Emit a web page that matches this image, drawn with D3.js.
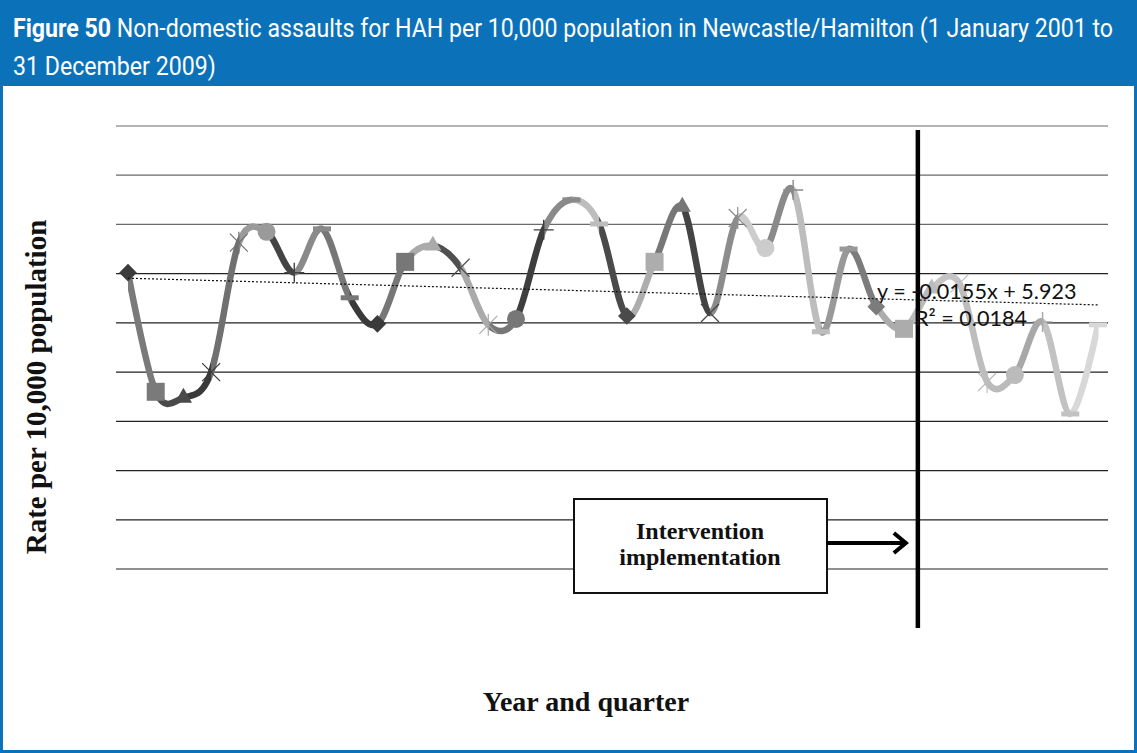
<!DOCTYPE html>
<html><head><meta charset="utf-8">
<script src="https://cdn.jsdelivr.net/npm/d3@7"></script>
<style>
html,body{margin:0;padding:0;background:#fff;}
svg{display:block;}
</style></head>
<body>
<svg id="chart" width="1137" height="753"></svg>
<script>
// Quarters 2001 Q1 .. 2009 Q4 (36 quarters)
const quarters = d3.range(1, 37);
const rates = [6.02, 3.60, 3.48, 4.00, 6.63, 6.85, 6.02, 6.91, 5.51,
               4.98, 6.24, 6.57, 6.12, 4.96, 5.08, 6.89, 7.50, 7.01,
               5.14, 6.24, 7.36, 5.20, 7.13, 6.52, 7.70, 4.82, 6.50,
               5.33, 4.88, 5.70, 5.80, 3.80, 3.94, 5.02, 3.15, 4.96];
// Grey shade of each point (line segment entering the point takes its colour)
const shades = ["#3c3c3c", "#7a7a7a", "#4a4a4a", "#3a3a3a", "#707070", "#9a9a9a", "#444444", "#8a8a8a", "#777777",
                "#3a3a3a", "#777777", "#aaaaaa", "#505050", "#aaaaaa", "#777777", "#3e3e3e", "#8a8a8a", "#bdbdbd",
                "#4a4a4a", "#adadad", "#777777", "#444444", "#8c8c8c", "#cccccc", "#8a8a8a", "#bdbdbd", "#999999",
                "#7c7c7c", "#acacac", "#bbbbbb", "#c4c4c4", "#bdbdbd", "#bbbbbb", "#a8a8a8", "#c2c2c2", "#d8d8d8"];
const markerCycle = ["diamond", "square", "triangle", "x", "star", "circle", "plus", "dash", "dash"];
const gridValues = [0, 1, 2, 3, 4, 5, 6, 7, 8, 9];
const trendSlope = -0.0155, trendIntercept = 5.923;
const trendLabel = "y = -0.0155x + 5.923";
const r2Label = "R\u00b2 = 0.0184";
const interventionAt = 29.5;

const svg = d3.select("#chart");
const W = 1137, H = 753;

// Frame and header
svg.append("rect").attr("x", 1.5).attr("y", 1.5).attr("width", W - 3).attr("height", H - 3)
  .attr("fill", "#fff").attr("stroke", "#0b72ba").attr("stroke-width", 3);
svg.append("rect").attr("x", 0).attr("y", 0).attr("width", W).attr("height", 86).attr("fill", "#0b72ba");
const title = svg.append("text").attr("fill", "#fff").attr("transform", "scale(0.89,1)")
  .style("font-family", "Roboto,'Liberation Sans',sans-serif")
  .style("font-size", "26px");
const t1 = title.append("tspan").attr("x", 13 / 0.89).attr("y", 37);
t1.append("tspan").attr("font-weight", "bold").text("Figure 50");
t1.append("tspan").text(" Non-domestic assaults for HAH per 10,000 population in Newcastle/Hamilton (1 January 2001 to");
title.append("tspan").attr("x", 13 / 0.89).attr("y", 75).text("31 December 2009)");

// Scales
const x = d3.scaleLinear().domain([1, 36]).range([128, 1098]);
const y = d3.scaleLinear().domain([0, 9]).range([569, 126]);

// Gridlines
svg.append("g").selectAll("line").data(gridValues).join("line")
  .attr("x1", 116).attr("x2", 1108)
  .attr("y1", d => y(d)).attr("y2", d => y(d))
  .attr("stroke", d => d >= 7 ? "#6a6a6a" : "#222").attr("stroke-width", 1.2);

// Smoothed line with per-segment colours via clipping
const data = quarters.map((q, i) => ({q, v: rates[i], c: shades[i], m: markerCycle[i % markerCycle.length]}));
const lineGen = d3.line().x(d => x(d.q)).y(d => y(d.v)).curve(d3.curveCatmullRom.alpha(0));
const pathD = lineGen(data);
const defs = svg.append("defs");
data.slice(1).forEach((d, i) => {
  defs.append("clipPath").attr("id", "seg" + i).append("rect")
    .attr("x", x(data[i].q)).attr("y", 0)
    .attr("width", x(d.q) - x(data[i].q) + 0.6).attr("height", H);
});
const segG = svg.append("g");
data.slice(1).forEach((d, i) => {
  segG.append("path").attr("d", pathD).attr("fill", "none")
    .attr("stroke", d.c).attr("stroke-width", 6.5)
    .attr("clip-path", `url(#seg${i})`);
});

// Markers
const mg = svg.append("g");
data.forEach(d => {
  const cx = x(d.q), cy = y(d.v);
  const g = mg.append("g").attr("transform", `translate(${cx},${cy})`);
  const col = d.c;
  if (d.m === "diamond") {
    g.append("path").attr("d", d3.symbol(d3.symbolDiamond2, 200)()).attr("fill", col);
  } else if (d.m === "square") {
    g.append("rect").attr("x", -9).attr("y", -9).attr("width", 18).attr("height", 18).attr("fill", col);
  } else if (d.m === "triangle") {
    g.append("path").attr("d", d3.symbol(d3.symbolTriangle2, 210)()).attr("fill", col);
  } else if (d.m === "x") {
    g.append("path").attr("d", "M-9,-9L9,9M-9,9L9,-9").attr("stroke", col).attr("stroke-width", 1.2);
  } else if (d.m === "star") {
    g.append("path").attr("d", "M-9,-9L9,9M-9,9L9,-9M0,-11V11").attr("stroke", col).attr("stroke-width", 1.2);
  } else if (d.m === "circle") {
    g.append("circle").attr("r", 9).attr("fill", col);
  } else if (d.m === "plus") {
    g.append("path").attr("d", "M-10,0H10M0,-10V10").attr("stroke", col).attr("stroke-width", 1.4);
  } else {
    g.append("rect").attr("x", -9).attr("y", -2.5).attr("width", 18).attr("height", 5).attr("fill", col);
  }
});

// Trendline
svg.append("line")
  .attr("x1", x(1)).attr("y1", y(trendIntercept + trendSlope * 1))
  .attr("x2", x(36)).attr("y2", y(trendIntercept + trendSlope * 36))
  .attr("stroke", "#111").attr("stroke-width", 1.2).attr("stroke-dasharray", "2,2");

// Intervention line
const vx = x(interventionAt);
svg.append("line").attr("x1", vx).attr("x2", vx).attr("y1", 130).attr("y2", 628)
  .attr("stroke", "#000").attr("stroke-width", 4.5);

// Equation text
const eqFont = "Lato,'Open Sans',sans-serif";
svg.append("text").attr("x", 877).attr("y", 299).attr("fill", "#111")
  .style("font-family", eqFont).style("font-size", "21.6px").text(trendLabel);
svg.append("text").attr("x", 915).attr("y", 326).attr("fill", "#111")
  .style("font-family", eqFont).style("font-size", "21.6px").text(r2Label);

// Annotation box
svg.append("rect").attr("x", 574).attr("y", 499).attr("width", 253).attr("height", 94)
  .attr("fill", "#fff").attr("stroke", "#111").attr("stroke-width", 2);
const serif = "'Liberation Serif','Times New Roman',serif";
svg.append("text").attr("x", 700).attr("y", 539).attr("text-anchor", "middle")
  .style("font-family", serif).style("font-weight", "bold").style("font-size", "24px").attr("fill", "#111")
  .text("Intervention");
svg.append("text").attr("x", 700).attr("y", 565).attr("text-anchor", "middle")
  .style("font-family", serif).style("font-weight", "bold").style("font-size", "24px").attr("fill", "#111")
  .text("implementation");
// Arrow
svg.append("line").attr("x1", 826).attr("x2", vx - 14).attr("y1", 543).attr("y2", 543)
  .attr("stroke", "#000").attr("stroke-width", 4);
svg.append("path").attr("d", `M${vx - 24},533L${vx - 12},543L${vx - 24},553`)
  .attr("fill", "none").attr("stroke", "#000").attr("stroke-width", 4);

// Axis titles
svg.append("text").attr("transform", "translate(46,387) rotate(-90)").attr("text-anchor", "middle")
  .style("font-family", serif).style("font-weight", "bold").style("font-size", "29px").attr("fill", "#111")
  .text("Rate per 10,000 population");
svg.append("text").attr("x", 586).attr("y", 711).attr("text-anchor", "middle")
  .style("font-family", serif).style("font-weight", "bold").style("font-size", "28px").attr("fill", "#111")
  .text("Year and quarter");
</script>
</body></html>
